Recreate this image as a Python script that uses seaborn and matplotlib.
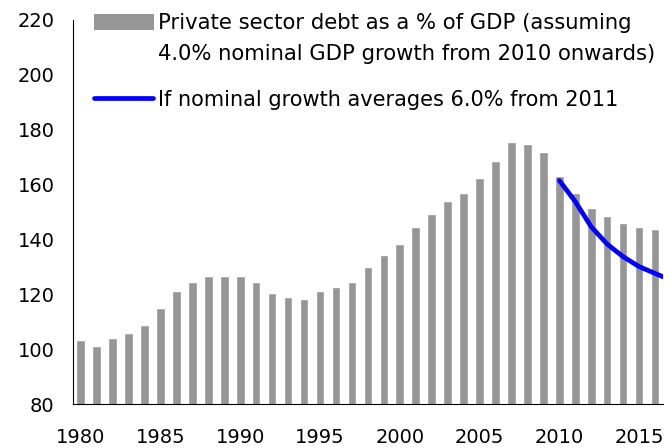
import matplotlib
matplotlib.use("Agg")
import matplotlib.pyplot as plt
import seaborn as sns
from matplotlib.patches import Patch
from matplotlib.lines import Line2D

# Private sector debt as a % of GDP, 1980-2016
years = list(range(1980, 2017))
debt = [103.3, 101.1, 104.1, 105.9, 108.8, 115.0, 121.2, 124.5, 126.7, 126.7,
        126.7, 124.5, 120.5, 119.0, 118.3, 121.2, 122.7, 124.5, 130.1, 134.3,
        138.3, 144.5, 149.3, 154.1, 156.9, 162.4, 168.6, 175.5, 174.8, 171.9,
        163.1, 156.9, 151.5, 148.5, 146.0, 144.5, 143.8]

# Alternative path with 6% nominal growth from 2011
alt_years = [2010, 2011, 2012, 2013, 2014, 2015, 2016, 2017]
alt_debt = [161.5, 153.8, 144.6, 138.3, 133.7, 130.1, 127.6, 125.2]

y_ticks = [80, 100, 120, 140, 160, 180, 200, 220]
x_labels = [1980, 1985, 1990, 1995, 2000, 2005, 2010, 2015]

bar_label_lines = ["Private sector debt as a % of GDP (assuming",
                   "4.0% nominal GDP growth from 2010 onwards)"]
line_label = "If nominal growth averages 6.0% from 2011"

sns.set_style("white")
plt.rcParams["font.family"] = ["DejaVu Sans"]
plt.rcParams.update({"text.color": "black", "axes.labelcolor": "black",
                     "xtick.color": "black", "ytick.color": "black"})

BAR_COLOR = "#969696"
LINE_COLOR = "#0000FF"
LW = 3.4

fig = plt.figure(figsize=(6.64, 4.48), dpi=100)
ax = fig.add_axes([0.1095, 0.0982, 0.889, 0.8572])

sns.barplot(x=years, y=debt, native_scale=True, width=0.54, color=BAR_COLOR,
            saturation=1, ax=ax)
sns.lineplot(x=alt_years, y=alt_debt, color=LINE_COLOR, lw=LW, ax=ax,
             solid_capstyle="round")

ax.set_xlim(1979.5, 2016.5)
ax.set_ylim(80, 220)
ax.set_xlabel("")
ax.set_ylabel("")

for s in ["top", "right"]:
    ax.spines[s].set_visible(False)
for s in ["left", "bottom"]:
    ax.spines[s].set_color("black")
    ax.spines[s].set_linewidth(0.8)

ax.set_yticks(y_ticks)
ax.tick_params(axis="y", direction="out", length=4.5, width=0.8, color="black",
               labelcolor="black", labelsize=14, pad=8.5)

# Category-boundary ticks with labels centred on the bars
ax.set_xticks([y - 0.5 for y in x_labels])
ax.set_xticklabels([])
ax.set_xticks(x_labels, minor=True)
ax.set_xticklabels([str(y) for y in x_labels], minor=True)
ax.tick_params(axis="x", which="major", direction="out", length=4.5, width=0.8,
               color="black")
ax.tick_params(axis="x", which="minor", length=0, labelsize=14,
               labelcolor="black", pad=17.5)

# Legend: bar entry (two text rows, swatch on the first) and line entry
bar_handles = [Patch(facecolor=BAR_COLOR, edgecolor="none"),
               Patch(facecolor="none", edgecolor="none")]
leg1 = ax.legend(bar_handles, bar_label_lines, loc="upper left",
                 bbox_to_anchor=(94 / 664, 1 - 13 / 448),
                 bbox_transform=fig.transFigure, frameon=False, fontsize=15.2,
                 handlelength=2.85, handleheight=0.77, handletextpad=0.2,
                 labelspacing=0.5, borderpad=0, borderaxespad=0,
                 labelcolor="black")
ax.add_artist(leg1)

line_handle = [Line2D([0], [0], color=LINE_COLOR, lw=LW, solid_capstyle="round")]
ax.legend(line_handle, [line_label], loc="upper left",
          bbox_to_anchor=(94 / 664, 1 - 90 / 448),
          bbox_transform=fig.transFigure, frameon=False, fontsize=15,
          handlelength=2.85, handleheight=0.77, handletextpad=0.2,
          borderpad=0, borderaxespad=0, labelcolor="black")

fig.savefig("out.png", dpi=100)
